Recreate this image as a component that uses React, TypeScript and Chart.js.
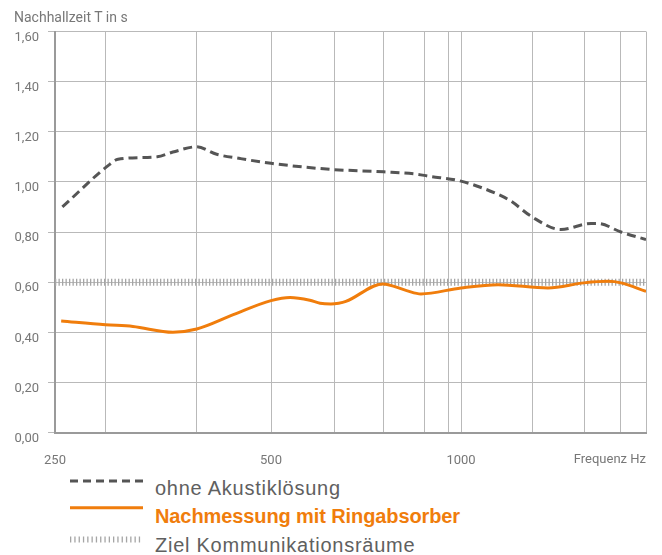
import { useEffect, useRef } from 'react';
import { Chart, registerables, LinearScale } from 'chart.js';

Chart.register(...registerables);

// ---- axis definition (frequency axis is drawn piecewise logarithmic) ----
const AXIS_HZ = [250, 500, 1000, 2000];
const AXIS_FRACTION = [0, 0.3655, 0.687, 1];
const GRID_HZ = [250, 294, 394, 500, 631, 755, 874, 954, 1000, 1305, 1586, 1820, 2000];
const LABELED_HZ = [250, 500, 1000];

// ---- data ----
const ohneHz = [256, 298, 306, 347, 365, 394, 420, 453, 500, 620, 755, 855, 887, 1000, 1149, 1206, 1300, 1454, 1628, 1671, 1821, 2000];
const ohneT = [0.9, 1.07, 1.09, 1.1, 1.119, 1.14, 1.11, 1.093, 1.074, 1.05, 1.04, 1.03, 1.023, 1.003, 0.95, 0.923, 0.863, 0.81, 0.834, 0.834, 0.8, 0.77];

const nachHz = [255, 294, 321, 365, 394, 443, 500, 536, 576, 598, 622, 640, 657, 752, 820, 864, 1000, 1149, 1385, 1585, 1735, 1821, 2000];
const nachT = [0.445, 0.43, 0.423, 0.4, 0.413, 0.47, 0.526, 0.539, 0.528, 0.516, 0.513, 0.516, 0.523, 0.593, 0.566, 0.553, 0.577, 0.59, 0.577, 0.597, 0.603, 0.597, 0.563];

const zielHz = [250, 2000];
const zielT = [0.6, 0.6];

const LEGEND_LABELS = ['ohne Akustiklösung', 'Nachmessung mit Ringabsorber', 'Ziel Kommunikationsräume'];

function hzToDecimal(f: number) {
  let i = 0;
  while (i < AXIS_HZ.length - 2 && f > AXIS_HZ[i + 1]) i++;
  const a = AXIS_HZ[i];
  const b = AXIS_HZ[i + 1];
  const t = Math.log(f / a) / Math.log(b / a);
  return AXIS_FRACTION[i] + t * (AXIS_FRACTION[i + 1] - AXIS_FRACTION[i]);
}
function decimalToHz(d: number) {
  let i = 0;
  while (i < AXIS_FRACTION.length - 2 && d > AXIS_FRACTION[i + 1]) i++;
  const t = (d - AXIS_FRACTION[i]) / (AXIS_FRACTION[i + 1] - AXIS_FRACTION[i]);
  return AXIS_HZ[i] * Math.pow(AXIS_HZ[i + 1] / AXIS_HZ[i], t);
}

class FreqScale extends LinearScale {
  static id = 'freq';
  static defaults = LinearScale.defaults;
  getPixelForValue(value: number) {
    return (this as any).getPixelForDecimal(hzToDecimal(value));
  }
  getValueForPixel(pixel: number) {
    return decimalToHz((this as any).getDecimalForPixel(pixel));
  }
}
Chart.register(FreqScale as any);

const toPoints = (xs: number[], ys: number[]) => xs.map((x, i) => ({ x, y: ys[i] }));

const GREY_TEXT = '#777';
const ORANGE = '#f07d0c';
const DARK = '#555';
const HATCH = '#a5a5a5';
const GRID = '#b9b9b9';
const TICK_FONT = { family: 'Roboto, sans-serif', size: 13 };

export default function App() {
  const ref = useRef<HTMLCanvasElement>(null);

  useEffect(() => {
    const canvas = ref.current;
    if (!canvas) return;
    const chart = new Chart(canvas, {
      type: 'line',
      data: {
        datasets: [
          {
            label: LEGEND_LABELS[1],
            data: toPoints(nachHz, nachT),
            borderColor: ORANGE,
            borderWidth: 3,
            pointRadius: 0,
            cubicInterpolationMode: 'monotone',
            fill: false,
          },
          {
            label: LEGEND_LABELS[0],
            data: toPoints(ohneHz, ohneT),
            borderColor: DARK,
            borderWidth: 3,
            borderDash: [9, 5],
            pointRadius: 0,
            cubicInterpolationMode: 'monotone',
            fill: false,
          },
          {
            label: LEGEND_LABELS[2],
            data: toPoints(zielHz, zielT),
            borderColor: HATCH,
            borderWidth: 7,
            borderDash: [1.3, 2.2],
            borderCapStyle: 'butt',
            pointRadius: 0,
            fill: false,
          },
        ],
      } as any,
      options: {
        animation: false,
        responsive: false,
        events: [],
        layout: { padding: { top: 31.5, right: 16, left: 0, bottom: 0 } },
        plugins: { legend: { display: false }, tooltip: { enabled: false } },
        scales: {
          x: {
            type: 'freq' as any,
            min: 250,
            max: 2000,
            afterBuildTicks: (s: any) => {
              s.ticks = GRID_HZ.map((value) => ({ value }));
            },
            afterFit: (s: any) => {
              s.height = 42.5;
              s.paddingLeft = 0;
              s.paddingRight = 0;
            },
            grid: { color: GRID, lineWidth: 1, drawTicks: false },
            border: { display: true, color: '#9a9a9a', width: 2 },
            ticks: {
              autoSkip: false,
              maxRotation: 0,
              minRotation: 0,
              padding: 20,
              color: GREY_TEXT,
              font: TICK_FONT,
              callback: (v: any) => (LABELED_HZ.includes(Number(v)) ? String(v) : ''),
            },
            title: {
              display: true,
              text: 'Frequenz Hz',
              align: 'end',
              color: GREY_TEXT,
              font: TICK_FONT,
              padding: { top: 0, bottom: 7 },
            },
          } as any,
          y: {
            min: 0,
            max: 1.6,
            afterFit: (s: any) => {
              s.width = 55;
              s.paddingTop = 0;
              s.paddingBottom = 0;
            },
            grid: { color: GRID, lineWidth: 1, tickLength: 7 },
            border: { display: true, color: '#9a9a9a', width: 2 },
            ticks: {
              stepSize: 0.2,
              padding: 9,
              labelOffset: 6,
              color: GREY_TEXT,
              font: TICK_FONT,
              callback: (v: any) => Number(v).toFixed(2).replace('.', ','),
            },
          },
        },
      },
    });
    return () => chart.destroy();
  }, []);

  const legendText = {
    position: 'absolute' as const,
    left: 155,
    fontFamily: "'Liberation Sans', Arial, sans-serif",
    fontSize: 20,
    lineHeight: '20px',
    whiteSpace: 'nowrap' as const,
  };

  return (
    <div style={{ position: 'absolute', left: 0, top: 0, width: 662, height: 555, background: '#fff', overflow: 'hidden' }}>
      <canvas ref={ref} width={662} height={475} style={{ position: 'absolute', left: 0, top: 0, width: 662, height: 475 }} />
      <div
        style={{
          position: 'absolute',
          left: 14,
          top: 9,
          fontFamily: 'Roboto, sans-serif',
          fontSize: 14,
          lineHeight: '16px',
          color: GREY_TEXT,
          whiteSpace: 'nowrap',
        }}
      >
        Nachhallzeit T in s
      </div>
      <svg style={{ position: 'absolute', left: 70, top: 470, overflow: 'visible' }} width={74} height={80}>
        <line x1={0} y1={11} x2={73} y2={11} stroke={DARK} strokeWidth={3} strokeDasharray="8 5" />
        <line x1={0} y1={37.7} x2={73} y2={37.7} stroke={ORANGE} strokeWidth={3} />
        <line x1={0} y1={69.5} x2={73} y2={69.5} stroke={HATCH} strokeWidth={6} strokeDasharray="1.3 3" />
      </svg>
      <div style={{ ...legendText, top: 478, color: '#606060', letterSpacing: '0.75px' }}>{LEGEND_LABELS[0]}</div>
      <div style={{ ...legendText, top: 506.4, color: ORANGE, fontWeight: 'bold', letterSpacing: '-0.1px' }}>{LEGEND_LABELS[1]}</div>
      <div style={{ ...legendText, top: 534.8, color: '#606060', letterSpacing: '0.75px' }}>{LEGEND_LABELS[2]}</div>
    </div>
  );
}
